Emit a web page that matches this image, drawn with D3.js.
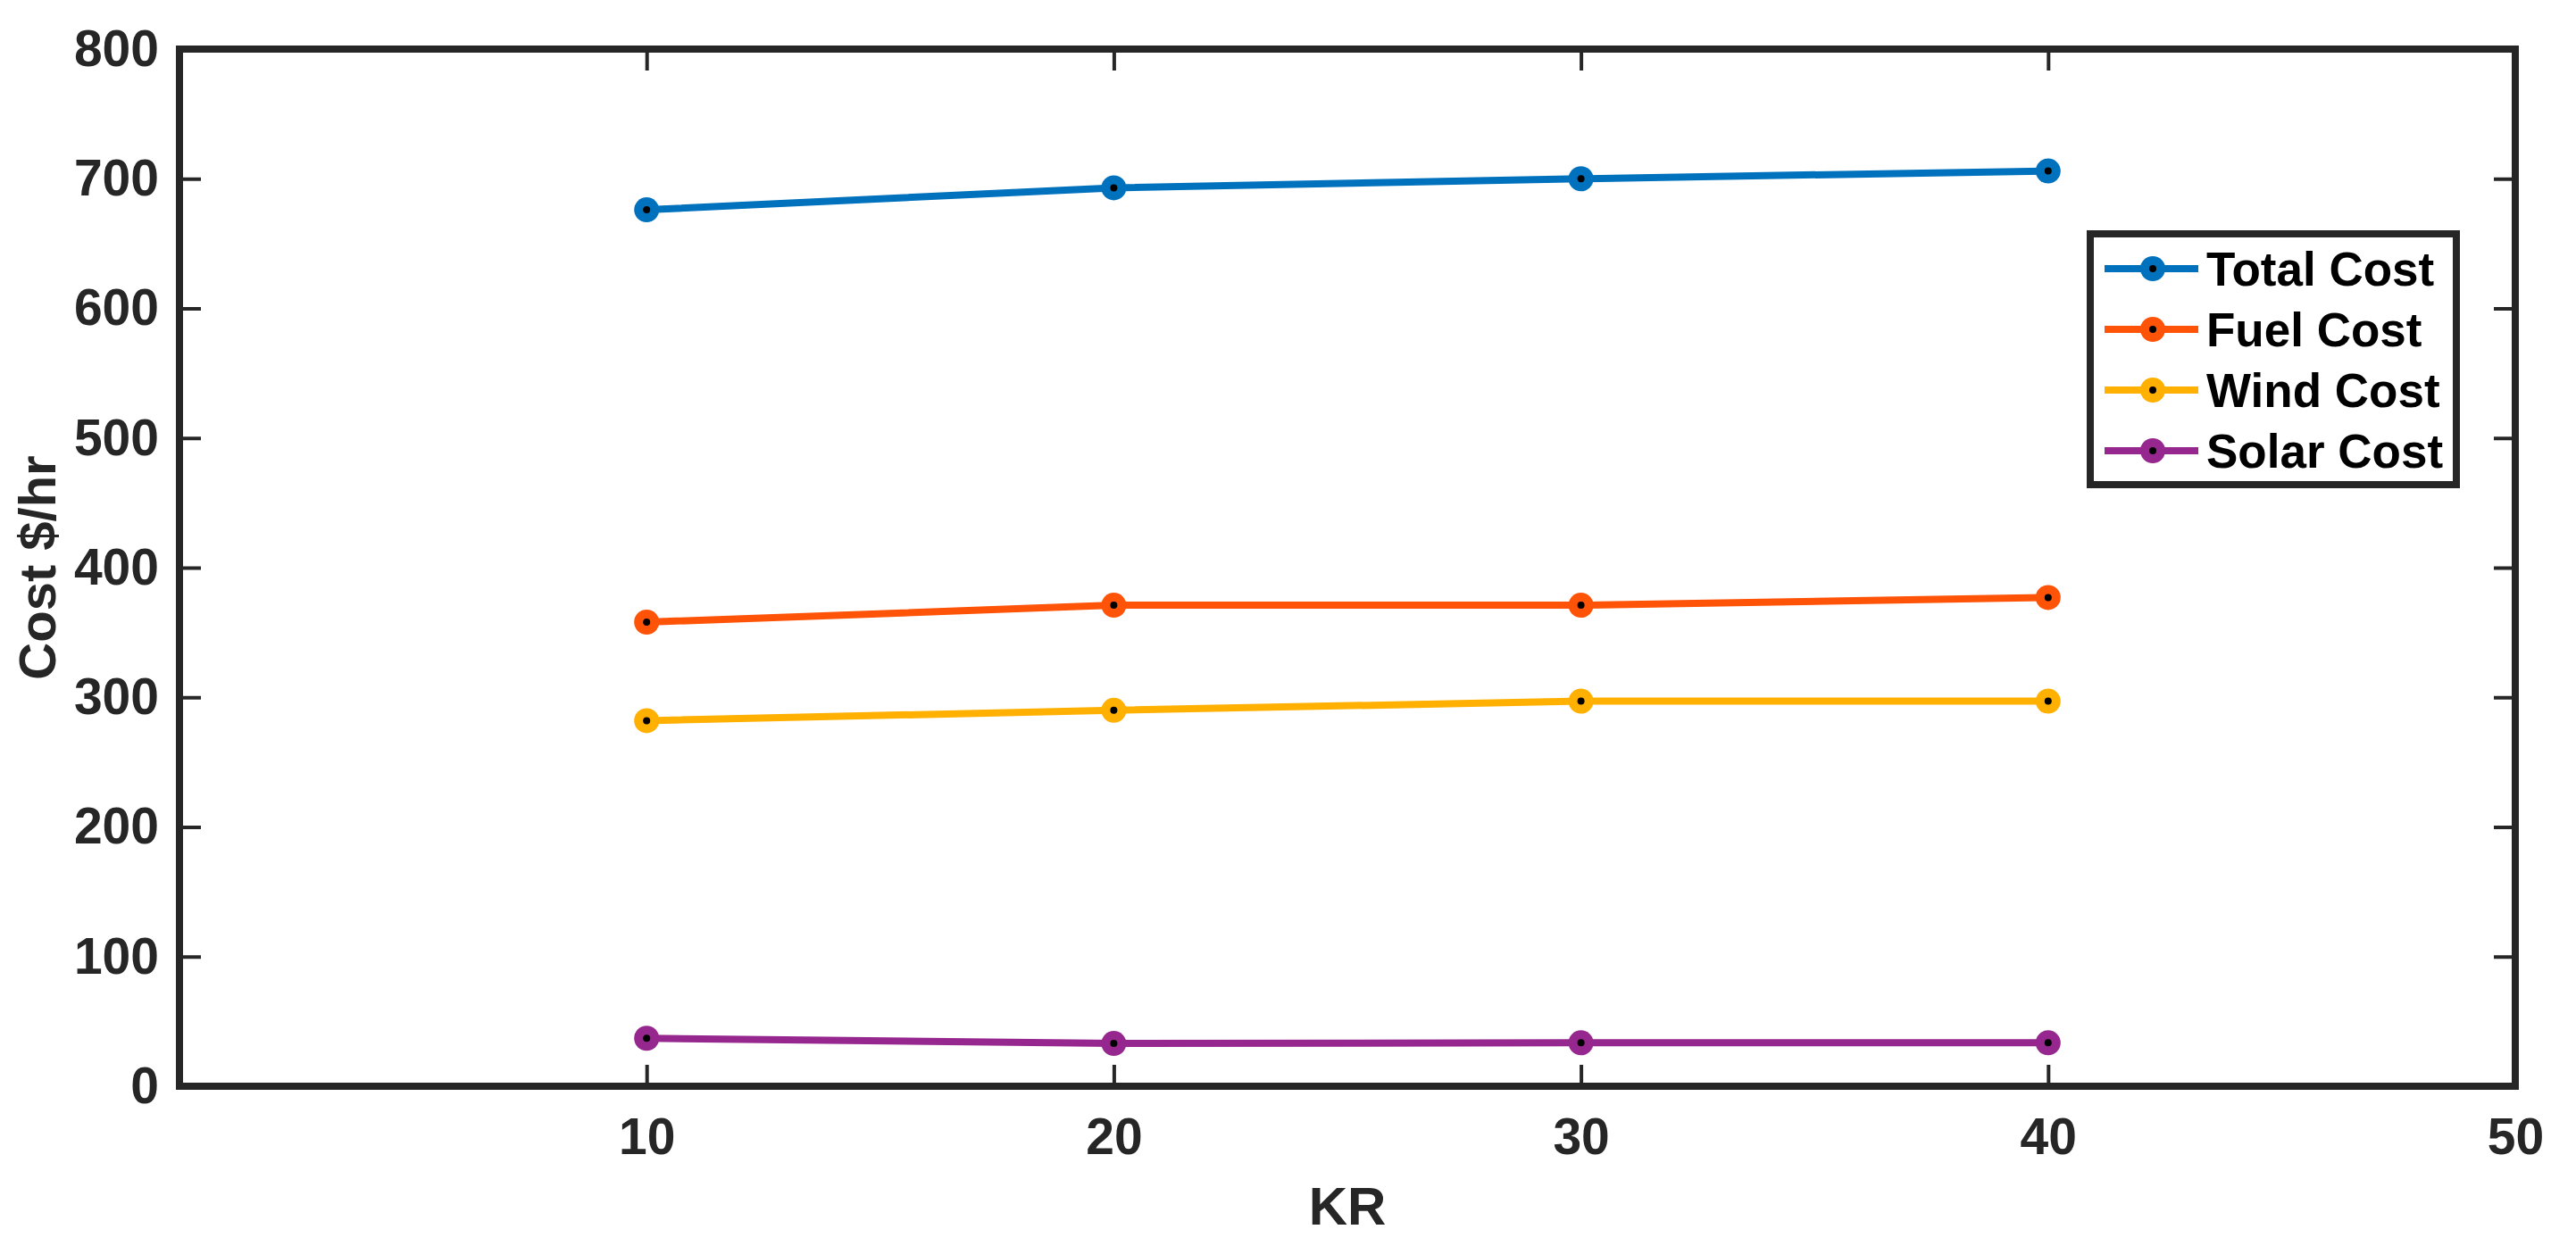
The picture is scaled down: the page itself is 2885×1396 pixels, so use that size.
<!DOCTYPE html>
<html lang="en">
<head>
    <meta charset="UTF-8">
    <title>Cost vs KR</title>
    <script src="https://cdn.jsdelivr.net/npm/d3@7"></script>
    <style>
        body { margin: 0; background: #fff; }
        text { font-family: "Liberation Sans", Arial, sans-serif; font-weight: bold; }
    </style>
</head>
<body>
    <div class="container"></div>
    <script>
        // Données
        const kr = [10, 20, 30, 40];
        const totalCost = [676, 693, 700, 706];
        const fuelCost = [358, 371, 371, 377];
        const windCost = [282, 290, 297, 297];
        const solarCost = [37, 33, 33.5, 33.5];
        const seriesNames = ["Total Cost", "Fuel Cost", "Wind Cost", "Solar Cost"];
        const seriesColors = ["#0072BD", "#FF5308", "#FFB000", "#96278F"];
        const xTicks = [10, 20, 30, 40, 50];
        const yTicks = [0, 100, 200, 300, 400, 500, 600, 700, 800];

        const series = [totalCost, fuelCost, windCost, solarCost].map((vals, i) => ({
            name: seriesNames[i],
            color: seriesColors[i],
            points: vals.map((v, j) => ({ x: kr[j], y: v }))
        }));

        const width = 2885;
        const height = 1396;
        const marginLeft = 201;
        const marginRight = 68;
        const marginTop = 55;
        const marginBottom = 179;
        const axisColor = "#262626";
        const tickLen = 24;

        const x = d3.scaleLinear()
            .domain([0, 50])
            .range([marginLeft, width - marginRight]);

        const y = d3.scaleLinear()
            .domain([0, 800])
            .range([height - marginBottom, marginTop]);

        const svg = d3.create("svg")
            .attr("width", width)
            .attr("height", height)
            .attr("viewBox", [0, 0, width, height]);

        svg.append("rect")
            .attr("width", width).attr("height", height).attr("fill", "#fff");

        // Axes (ticks vers l'intérieur)
        const styleAxis = g => {
            g.select(".domain").remove();
            g.selectAll(".tick line").attr("stroke", axisColor).attr("stroke-width", 4);
            g.selectAll(".tick text").attr("fill", axisColor).attr("font-size", 57);
        };

        svg.append("g")
            .attr("transform", `translate(0,${height - marginBottom})`)
            .call(d3.axisBottom(x).tickValues(xTicks).tickSize(-tickLen).tickPadding(36))
            .call(styleAxis);

        svg.append("g")
            .attr("transform", `translate(0,${marginTop})`)
            .call(d3.axisTop(x).tickValues(xTicks).tickSize(-tickLen).tickFormat(""))
            .call(styleAxis);

        svg.append("g")
            .attr("transform", `translate(${marginLeft},0)`)
            .call(d3.axisLeft(y).tickValues(yTicks).tickSize(-tickLen).tickPadding(23))
            .call(styleAxis);

        svg.append("g")
            .attr("transform", `translate(${width - marginRight},0)`)
            .call(d3.axisRight(y).tickValues(yTicks).tickSize(-tickLen).tickFormat(""))
            .call(styleAxis);

        // Cadre
        svg.append("rect")
            .attr("x", marginLeft)
            .attr("y", marginTop)
            .attr("width", width - marginLeft - marginRight)
            .attr("height", height - marginTop - marginBottom)
            .attr("fill", "none")
            .attr("stroke", axisColor)
            .attr("stroke-width", 8);

        // Libellés des axes
        svg.append("text")
            .attr("x", (marginLeft + width - marginRight) / 2)
            .attr("y", 1372)
            .attr("text-anchor", "middle")
            .attr("font-size", 60)
            .attr("fill", axisColor)
            .text("KR");

        svg.append("text")
            .attr("transform", `translate(62,${y(400)})rotate(-90)`)
            .attr("text-anchor", "middle")
            .attr("font-size", 58)
            .attr("fill", axisColor)
            .text("Cost $/hr");

        // Courbes
        const line = d3.line().x(d => x(d.x)).y(d => y(d.y));

        const gSeries = svg.append("g")
            .selectAll("g")
            .data(series)
            .join("g");

        gSeries.append("path")
            .attr("d", d => line(d.points))
            .attr("fill", "none")
            .attr("stroke", d => d.color)
            .attr("stroke-width", 8);

        gSeries.selectAll("circle.m")
            .data(d => d.points.map(p => ({ ...p, color: d.color })))
            .join("circle")
            .attr("class", "m")
            .attr("cx", d => x(d.x))
            .attr("cy", d => y(d.y))
            .attr("r", 14)
            .attr("fill", d => d.color);

        gSeries.selectAll("circle.c")
            .data(d => d.points)
            .join("circle")
            .attr("class", "c")
            .attr("cx", d => x(d.x))
            .attr("cy", d => y(d.y))
            .attr("r", 4)
            .attr("fill", "#000");

        // Légende
        const legend = svg.append("g").attr("transform", "translate(2337,258)");
        legend.append("rect")
            .attr("x", 4).attr("y", 4)
            .attr("width", 410).attr("height", 281)
            .attr("fill", "#fff")
            .attr("stroke", axisColor)
            .attr("stroke-width", 8);

        const items = legend.selectAll("g.item")
            .data(series)
            .join("g")
            .attr("class", "item")
            .attr("transform", (d, i) => `translate(0,${43 + i * 68})`);

        items.append("line")
            .attr("x1", 20).attr("x2", 125)
            .attr("stroke", d => d.color)
            .attr("stroke-width", 8);
        items.append("circle")
            .attr("cx", 74).attr("r", 14)
            .attr("fill", d => d.color);
        items.append("circle")
            .attr("cx", 74).attr("r", 4)
            .attr("fill", "#000");
        items.append("text")
            .attr("x", 134)
            .attr("dy", "0.36em")
            .attr("font-size", 53)
            .attr("fill", "#000")
            .text(d => d.name);

        document.querySelector(".container").appendChild(svg.node());
    </script>
</body>
</html>
